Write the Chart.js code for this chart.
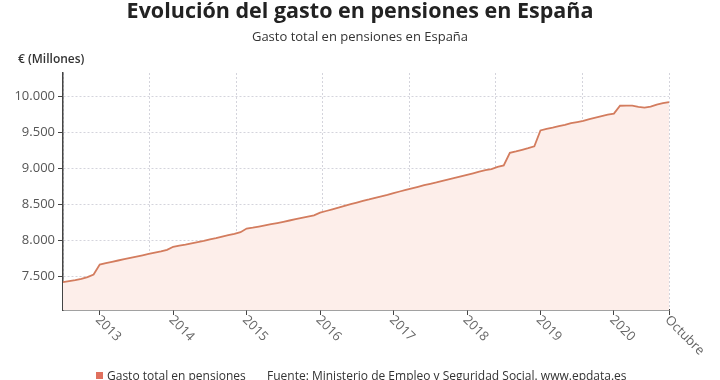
<!DOCTYPE html>
<html>
<head>
<meta charset="utf-8">
<script src="https://cdn.jsdelivr.net/npm/chart.js@4"></script>
<style>
  html, body { margin: 0; background: #fff; }
</style>
</head>
<body>
<canvas id="myChart" width="720" height="380"></canvas>
<script>
// Gasto mensual en pensiones (millones de euros), julio 2012 - octubre 2020
const anioInicio = 2012;
const mesInicio = 7;
const gasto = [
    7422, 7436, 7450, 7468, 7494, 7530,
    7668, 7688, 7706, 7724, 7742, 7760, 7778, 7796, 7815, 7834, 7852, 7872,
    7915, 7930, 7945, 7962, 7980, 7998, 8018, 8035, 8055, 8075, 8095, 8118,
    8168, 8180, 8196, 8212, 8228, 8245, 8262, 8280, 8298, 8316, 8334, 8352,
    8390, 8412, 8436, 8460, 8484, 8508, 8530, 8552, 8572, 8594, 8615, 8636,
    8660, 8683, 8705, 8726, 8748, 8770, 8790, 8810, 8832, 8852, 8872, 8893,
    8915, 8936, 8958, 8980, 8995, 9025, 9045, 9220, 9240, 9262, 9285, 9312,
    9532, 9552, 9570, 9590, 9608, 9632, 9648, 9665, 9690, 9710, 9730, 9750,
    9766, 9875, 9876, 9876, 9860, 9850, 9862, 9890, 9910, 9925
];
const yTicks = [7500, 8000, 8500, 9000, 9500, 10000];
const etiquetaFinal = 'Octubre';

// etiquetas mes/año
const meses = gasto.map((_, i) => {
    const m = (mesInicio - 1 + i) % 12 + 1;
    const a = anioInicio + Math.floor((mesInicio - 1 + i) / 12);
    return m + '/' + a;
});

const fmt = v => String(v).replace(/\B(?=(\d{3})+(?!\d))/g, '.');

Chart.defaults.font.family = "'Open Sans', sans-serif";

// Textos: titulo, subtitulo, unidades, etiquetas del eje x, leyenda
const textos = {
    id: 'textos',
    afterDraw(chart) {
        const c = chart.ctx;
        c.save();
        c.fillStyle = '#222';
        c.textAlign = 'center';
        c.textBaseline = 'middle';
        c.font = "bold 21.5px 'Open Sans'";
        c.fillText('Evolución del gasto en pensiones en España', 360, 12);
        c.font = "13px 'Open Sans'";
        c.fillStyle = '#333';
        c.fillText('Gasto total en pensiones en España', 360, 37);
        c.textAlign = 'left';
        c.font = "600 12px 'Open Sans'";
        c.fillText('€ (Millones)', 18, 60);

        // etiquetas rotadas del eje x
        const sx = chart.scales.x;
        c.font = "13px 'Open Sans'";
        c.fillStyle = '#666';
        sx.ticks.forEach(t => {
            const x = sx.getPixelForValue(t.value);
            const lbl = t.value === meses.length - 1 ? etiquetaFinal : meses[t.value].split('/')[1];
            c.save();
            c.translate(x - 2, 318);
            c.rotate(Math.PI / 4);
            c.fillText(lbl, 0, 0);
            c.restore();
        });

        // leyenda y fuente
        c.fillStyle = '#e0705e';
        c.fillRect(96, 372, 7, 7);
        c.fillStyle = '#333';
        c.font = "12px 'Open Sans'";
        c.fillText('Gasto total en pensiones', 107, 377);
        c.fillText('Fuente: Ministerio de Empleo y Seguridad Social. www.epdata.es', 267, 377);
        c.restore();
    }
};

const ctx = document.getElementById('myChart').getContext('2d');
const myChart = new Chart(ctx, {
    type: 'line',
    data: {
        labels: meses,
        datasets: [{
            label: 'Gasto total en pensiones',
            data: gasto,
            borderColor: '#d37c5e',
            borderWidth: 1.8,
            backgroundColor: '#fdeeea',
            fill: 'start',
            pointRadius: 0,
            tension: 0
        }]
    },
    options: {
        responsive: false,
        animation: false,
        layout: { padding: { top: 73, right: 51, left: 0, bottom: 0 } },
        plugins: {
            legend: { display: false },
            tooltip: { enabled: false }
        },
        scales: {
            x: {
                type: 'category',
                offset: false,
                grid: { drawOnChartArea: false, tickLength: 5, tickColor: '#444' },
                border: { color: '#444', width: 1.5 },
                ticks: { display: false, autoSkip: false },
                afterBuildTicks: s => {
                    s.ticks = s.ticks.filter(t => meses[t.value].startsWith('1/') || t.value === meses.length - 1);
                },
                afterFit: s => { s.height = 70; s.paddingLeft = 0; s.paddingRight = 0; }
            },
            xg: {
                type: 'linear',
                position: 'bottom',
                min: 0,
                max: 7,
                ticks: { display: false, stepSize: 1 },
                grid: { color: '#d4d4dc', drawTicks: false },
                border: { display: false, dash: [2, 2] },
                afterFit: s => { s.height = 0; s.paddingLeft = 0; s.paddingRight = 0; }
            },
            y: {
                min: 7036,
                max: 10330,
                grid: { color: '#d4d4dc', tickLength: 5, tickColor: '#444' },
                border: { color: '#444', width: 1.5, dash: [2, 2] },
                ticks: {
                    padding: 3,
                    color: '#555',
                    font: { size: 13 },
                    callback: v => fmt(v)
                },
                afterBuildTicks: s => { s.ticks = yTicks.map(v => ({ value: v })); },
                afterFit: s => { s.width = 63; }
            }
        }
    },
    plugins: [textos]
});
</script>
</body>
</html>
